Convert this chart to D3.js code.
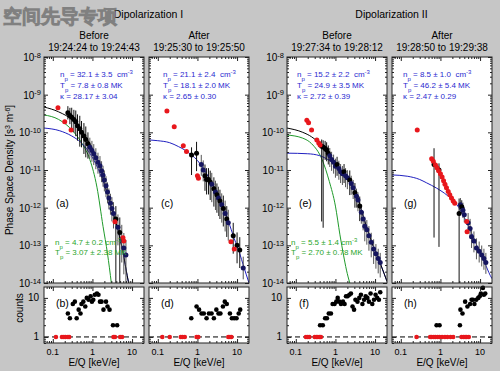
<!DOCTYPE html>
<html>
<head>
<meta charset="utf-8">
<script src="https://cdn.jsdelivr.net/npm/d3@7"></script>
<style>
  body { margin: 0; background: #c6c6c6; }
  text { font-family: "Liberation Sans", Arial, sans-serif; white-space: pre; }
</style>
</head>
<body>
<svg id="fig" width="500" height="371"></svg>
<script>
// ---- values ----
const eventTitles = ["Dipolarization I", "Dipolarization II"];
const phaseNames = ["Before", "After", "Before", "After"];
const timeRanges = ["19:24:24 to 19:24:43", "19:25:30 to 19:25:50", "19:27:34 to 19:28:12", "19:28:50 to 19:29:38"];
const psdLetters = ["(a)", "(c)", "(e)", "(g)"];
const cntLetters = ["(b)", "(d)", "(f)", "(h)"];
const kappaDens = ["32.1 ± 3.5", "21.1 ± 2.4", "15.2 ± 2.2", "8.5 ± 1.0"];
const kappaTemp = ["7.8 ± 0.8", "18.1 ± 2.0", "24.9 ± 3.5", "46.2 ± 5.4"];
const kappaIdx = ["28.17 ± 3.04", "2.65 ± 0.30", "2.72 ± 0.39", "2.47 ± 0.29"];
const maxwDens = ["4.7 ± 0.2", null, "5.5 ± 1.4", null];
const maxwTemp = ["3.07 ± 2.38", null, "2.70 ± 0.78", null];
const psdTicks = [1e-8, 1e-9, 1e-10, 1e-11, 1e-12, 1e-13, 1e-14];
const energyTicks = [0.1, 1, 10];
const countTicks = [1, 10];

// spectra: [E (keV/e), PSD, error-bar factor down, factor up, kind]  r = red, k = black, b = navy
const psdA = [
  [0.24, 3.3e-10, 1.5, 1.5, "k"], [0.27, 2.8e-10, 1.7, 1.6, "k"], [0.30, 2.5e-10, 2, 1.8, "k"],
  [0.34, 2.2e-10, 2.2, 1.8, "k"], [0.38, 1.9e-10, 2.4, 2, "k"], [0.42, 1.5e-10, 2.5, 2, "k"],
  [0.48, 1.25e-10, 3, 2.2, "k"], [0.53, 1.0e-10, 2.5, 2, "k"], [0.61, 8e-11, 3, 2.2, "k"],
  [0.68, 6.5e-11, 3, 2.2, "k"], [0.77, 5e-11, 2.5, 2, "k"], [0.86, 4e-11, 2, 1.8, "b"],
  [0.97, 3.3e-11, 2, 1.8, "b"], [1.08, 2.7e-11, 2, 1.8, "b"], [1.22, 2.1e-11, 2, 1.8, "b"],
  [1.38, 1.6e-11, 2, 1.8, "b"], [1.55, 1.3e-11, 2, 1.8, "b"], [1.7, 9.5e-12, 2, 1.8, "b"],
  [1.85, 7.2e-12, 2, 1.8, "b"], [2.0, 5.4e-12, 2, 1.8, "b"], [2.2, 3.8e-12, 2, 1.8, "b"],
  [2.4, 2.6e-12, 2, 1.8, "b"], [2.6, 1.8e-12, 2, 1.8, "b"], [2.85, 1.3e-12, 2, 1.8, "b"],
  [3.1, 9.5e-13, 2.2, 2, "b"], [3.4, 7e-13, 2.5, 2, "b"], [3.9, 5e-13, 60, 2.2, "k"],
  [4.4, 3e-13, 3, 2.2, "b"], [4.9, 2.2e-13, 40, 2.5, "k"], [5.5, 1.4e-13, 4, 2.5, "b"],
  [6.2, 8.5e-14, 5, 2.5, "b"], [7.0, 5.5e-14, 6, 2.5, "b"],
  [0.135, 4.5e-10, 1, 1, "r"], [0.20, 1.9e-10, 1, 1, "r"], [0.29, 1.15e-10, 1, 1, "r"],
  [3.7, 4.2e-13, 1, 1, "r"], [5.9, 1.6e-13, 1, 1, "r"], [6.2, 1.3e-13, 1, 1, "r"]
];
const psdC = [
  [0.71, 2.5e-11, 3.4, 1.6, "k"], [0.95, 2.8e-11, 3, 2, "k"], [1.25, 1.4e-11, 2, 1.8, "b"],
  [1.4, 1.0e-11, 2, 1.8, "b"], [1.55, 7e-12, 2.5, 2, "k"], [1.7, 5.6e-12, 2.5, 2, "k"],
  [1.9, 5.6e-12, 2.5, 2, "k"], [2.1, 4.8e-12, 3, 2, "k"], [2.3, 4.2e-12, 3, 2, "b"],
  [2.6, 3.2e-12, 3, 2, "k"], [2.85, 2.6e-12, 3, 2, "b"], [3.1, 2.2e-12, 3, 2, "k"],
  [3.4, 1.8e-12, 3, 2, "b"], [3.7, 1.5e-12, 3, 2, "k"], [4.1, 1.2e-12, 3, 2, "b"],
  [4.5, 9.5e-13, 3, 2.2, "k"], [5.0, 7e-13, 3, 2.2, "b"], [5.5, 5e-13, 3, 2.2, "k"],
  [6.0, 4e-13, 3, 2.2, "b"], [8.0, 1.8e-13, 3, 2.2, "k"], [10.0, 1e-13, 3, 2.2, "k"],
  [11.7, 7.5e-14, 3, 2.2, "k"], [14.3, 2.5e-14, 2, 2, "b"],
  [0.17, 3.7e-10, 1, 1, "r"], [0.26, 1.4e-10, 1, 1, "r"], [0.44, 4.4e-11, 1, 1, "r"],
  [0.53, 3.1e-11, 1, 1, "r"], [1.0, 7e-12, 1, 1, "r"], [1.06, 6e-12, 1, 1, "r"],
  [7.0, 1.25e-13, 1, 1, "r"], [8.5, 8e-14, 1, 1, "r"]
];
const psdE = [
  [0.45, 4.3e-11, 100, 1.5, "k"], [0.49, 4.1e-11, 140, 1.5, "k"], [0.55, 3.7e-11, 2, 1.6, "k"],
  [0.6, 3.4e-11, 2, 1.6, "k"], [0.66, 2.8e-11, 2, 1.6, "k"], [0.72, 2.4e-11, 2, 1.6, "b"],
  [0.8, 1.9e-11, 2, 1.6, "b"], [0.9, 1.6e-11, 2, 1.6, "b"], [1.0, 1.25e-11, 2, 1.6, "b"],
  [1.1, 1.4e-11, 2, 1.6, "k"], [1.22, 1.1e-11, 2, 1.6, "b"], [1.35, 9e-12, 2, 1.6, "b"],
  [1.5, 8e-12, 2, 1.6, "b"], [1.65, 9e-12, 2, 1.6, "k"], [1.8, 7e-12, 2, 1.6, "b"],
  [2.0, 6.2e-12, 2, 1.6, "b"], [2.3, 5.4e-12, 2.5, 1.8, "k"], [2.5, 4.4e-12, 2, 1.6, "b"],
  [2.8, 3.4e-12, 2, 1.6, "b"], [3.1, 2.5e-12, 2.5, 1.8, "k"], [3.4, 2.0e-12, 2, 1.6, "b"],
  [3.7, 1.6e-12, 2, 1.6, "b"], [4.1, 1.1e-12, 2.5, 1.8, "k"], [4.5, 7.5e-13, 2, 1.6, "b"],
  [5.0, 5e-13, 2, 1.6, "b"], [5.5, 3.2e-13, 2.5, 1.8, "b"], [6.2, 2.6e-13, 2.5, 1.8, "b"],
  [7.0, 1.8e-13, 2.5, 1.8, "b"], [8.0, 1.2e-13, 2.5, 1.8, "b"], [9.2, 8e-14, 2.5, 1.8, "b"],
  [10.5, 6e-14, 2.5, 1.8, "b"], [12, 4.5e-14, 2.5, 1.8, "b"], [13.5, 3.5e-14, 2.5, 1.8, "b"],
  [0.19, 2.1e-10, 1, 1, "r"], [0.21, 1.8e-10, 1, 1, "r"], [0.25, 1.15e-10, 1, 1, "r"],
  [0.34, 6.3e-11, 1, 1, "r"], [0.38, 5.2e-11, 1, 1, "r"], [0.41, 4.6e-11, 1, 1, "r"]
];
const psdG = [
  [0.69, 1.4e-11, 87, 2.7, "k"], [0.92, 1.0e-11, 110, 1.5, "k"], [2.96, 7e-13, 1000, 2.5, "k"],
  [3.2, 1.2e-12, 1.5, 1.5, "b"], [3.45, 1.05e-12, 1.5, 1.5, "k"], [3.7, 8.5e-13, 1.6, 1.6, "b"],
  [4.0, 6.5e-13, 1.6, 1.6, "b"], [5.0, 4e-13, 1.8, 1.8, "b"], [5.6, 2.8e-13, 1.8, 1.8, "b"],
  [6.1, 1.7e-13, 2, 1.8, "b"], [7.0, 1.3e-13, 2, 1.8, "b"], [8.1, 8.5e-14, 2, 1.8, "b"],
  [9.5, 7e-14, 2, 1.8, "b"], [11, 5.5e-14, 2, 1.8, "b"], [12.5, 4.5e-14, 2, 1.8, "b"],
  [14, 3.5e-14, 2, 1.8, "b"],
  [0.26, 1.15e-10, 1, 1, "r"], [0.6, 2.0e-11, 1, 1, "r"], [0.66, 1.7e-11, 1, 1, "r"],
  [0.75, 1.35e-11, 1, 1, "r"], [0.82, 1.15e-11, 1, 1, "r"], [0.9, 9.5e-12, 1, 1, "r"],
  [1.0, 8e-12, 1, 1, "r"], [1.1, 6.5e-12, 1, 1, "r"], [1.2, 5.2e-12, 1, 1, "r"],
  [1.3, 4.2e-12, 1, 1, "r"], [1.42, 3.4e-12, 1, 1, "r"], [1.57, 2.7e-12, 1, 1, "r"],
  [1.72, 2.2e-12, 1, 1, "r"], [1.9, 1.8e-12, 1, 1, "r"], [2.1, 1.5e-12, 1, 1, "r"],
  [2.3, 1.3e-12, 1, 1, "r"], [4.6, 4.3e-13, 1, 1, "r"], [4.7, 2.3e-13, 1, 1, "r"]
];

// fitted curves, read as [E, PSD]
const sumA = [[0.06, 4.7e-10], [0.14, 3.5e-10], [0.33, 2e-10], [0.55, 1.05e-10], [0.86, 5e-11], [1.3, 2e-11], [2, 4.5e-12], [3, 1e-12], [4.4, 2.6e-13], [6, 6e-14], [7.5, 1.6e-14], [8.2, 1e-14]];
const maxwA = [[0.06, 2.9e-10], [0.14, 2.2e-10], [0.33, 1.05e-10], [0.55, 5e-11], [0.86, 1.9e-11], [1.3, 3.5e-12], [1.85, 3.2e-13], [2.4, 6e-14], [3.0, 1e-14]];
const kappaA = [[0.06, 1.3e-10], [0.15, 1.1e-10], [0.3, 8e-11], [0.5, 5.5e-11], [0.8, 3.1e-11], [1.2, 1.5e-11], [2, 4e-12], [3, 1e-12], [4.4, 2.6e-13], [6, 6e-14], [7.5, 1.6e-14], [8.2, 1e-14]];
const kappaC = [[0.06, 6.3e-11], [0.1, 6.0e-11], [0.2, 5.3e-11], [0.33, 4.2e-11], [0.5, 3.3e-11], [0.71, 2.5e-11], [1.0, 1.8e-11], [1.4, 1.1e-11], [2, 6e-12], [3, 2.8e-12], [4.5, 1.1e-12], [6, 4.5e-13], [8.5, 1.5e-13], [11.7, 6e-14], [14.3, 3e-14], [20, 1e-14]];
const sumE = [[0.06, 1.3e-10], [0.15, 1.0e-10], [0.25, 7.6e-11], [0.46, 4.3e-11], [0.7, 2.3e-11], [1, 1.45e-11], [1.5, 8.5e-12], [2.3, 4.8e-12], [3.5, 2.1e-12], [5, 6e-13], [7, 2e-13], [10, 7e-14], [14, 3e-14], [20, 1.1e-14]];
const maxwE = [[0.06, 8.5e-11], [0.15, 7e-11], [0.25, 5e-11], [0.46, 1.9e-11], [0.7, 5e-12], [1.0, 1.1e-12], [1.3, 1.9e-13], [1.6, 5.5e-14], [1.9, 2.2e-14], [2.3, 1e-14]];
const kappaE = [[0.06, 2.8e-11], [0.2, 2.7e-11], [0.4, 2.4e-11], [0.7, 1.8e-11], [1, 1.35e-11], [1.5, 8.5e-12], [2.3, 4.8e-12], [3.5, 2.1e-12], [5, 6e-13], [7, 2e-13], [10, 7e-14], [14, 3e-14], [20, 1.1e-14]];
const kappaG = [[0.06, 7.4e-12], [0.15, 6.8e-12], [0.3, 5.6e-12], [0.44, 4.6e-12], [0.8, 3.3e-12], [1.5, 2.1e-12], [2.6, 1.2e-12], [4, 5.5e-13], [6, 2.2e-13], [9, 8e-14], [13, 3.5e-14], [18, 1.6e-14], [20, 1.3e-14]];

// counts panels: black energies / counts, red points sit at one count
const cntEB = [0.24, 0.27, 0.32, 0.36, 0.40, 0.45, 0.50, 0.53, 0.59, 0.66, 0.72, 0.80, 0.90, 0.97, 1.05, 1.15, 1.3, 1.42, 1.55, 1.7, 1.9, 2.2, 2.4, 2.7, 3.3, 4.2];
const cntB = [4, 3, 7, 8, 3, 5, 4, 7, 8, 6, 10, 9, 11, 8, 9, 12, 13, 12, 8, 8, 5, 8, 6, 5, 2, 2];
const redEB = [0.12, 0.17, 0.19, 0.21, 0.24, 0.26, 3.4, 3.7, 5.0, 5.6];
const cntED = [0.7, 0.95, 1.1, 1.27, 1.45, 1.7, 1.95, 2.27, 2.6, 3.0, 3.4, 3.8, 4.4, 4.9, 5.5, 6.6, 7.4, 8.5, 9.7, 11, 12];
const cntD = [3, 6, 5, 4, 4, 3, 4, 4, 3, 5, 4, 4, 6, 8, 7, 4, 3, 3, 3, 4, 5];
const redED = [0.13, 0.2, 0.38, 0.42, 0.48, 0.95, 1.05, 6.0, 6.6, 7.2];
const cntEF = [0.41, 0.48, 0.55, 0.61, 0.68, 0.77, 0.85, 0.95, 1.05, 1.14, 1.25, 1.38, 1.55, 1.7, 1.85, 2.03, 2.25, 2.46, 2.7, 2.95, 3.2, 3.6, 4.0, 4.4, 4.8, 5.3, 5.8, 6.4, 7.0, 7.7, 8.5, 9.4, 10.3, 11.3, 12.5, 13.5];
const cntF = [2, 2, 3, 3, 4, 4, 7, 7, 8, 10, 8, 7, 8, 7, 11, 11, 12, 13, 6, 5, 9, 8, 10, 12, 7, 9, 11, 10, 8, 13, 7, 9, 12, 10, 9, 14];
const redEF = [0.18, 0.2, 0.22, 0.3, 0.33, 0.36, 0.4, 0.43];
const cntEH = [0.8, 0.95, 3.1, 3.2, 3.6, 4.2, 4.8, 5.6, 6.1, 6.6, 7.2, 8.0, 9.0, 9.8, 10.5, 11.8, 12.5, 13.5];
const cntH = [2, 2, 2, 5, 4, 8, 6, 7, 9, 9, 7, 9, 10, 11, 13, 18, 12, 13];
const redEH = [0.25, 0.55, 0.6, 0.68, 0.75, 0.85, 0.95, 1.1, 1.3, 1.5, 1.8, 2.1, 3.4, 3.8, 4.2, 4.6, 5.2];

// ---- layout ----
const svg = d3.select("#fig");
const colX = [44, 149, 287, 392], colW = 100;
const psdTop = 57, psdBot = 283, cntTop = 287, cntBot = 343;
const dotCol = {r: "#e8171c", k: "#000000", b: "#15155e"};
const barCol = {k: "#111111", b: "#555555"};
const green = "#1f9a2a", blue = "#2020c0";

const spectra = [psdA, psdC, psdE, psdG];
const curves = [
  [[maxwA, green], [kappaA, blue], [sumA, "#000"]],
  [[kappaC, blue]],
  [[maxwE, green], [kappaE, blue], [sumE, "#000"]],
  [[kappaG, blue]]
];
const countsE = [cntEB, cntED, cntEF, cntEH];
const countsN = [cntB, cntD, cntF, cntH];
const countsRed = [redEB, redED, redEF, redEH];

svg.append("rect").attr("width", 500).attr("height", 371).attr("fill", "#c6c6c6");

const yPsd = d3.scaleLog().domain([1e-14, 1e-8]).range([psdBot, psdTop]);
const yCnt = d3.scaleLog().domain([0.7, 19]).range([cntBot, cntTop]);

// minor tick positions for log axes
function minorTicks(lo, hi) {
  let out = [];
  for (let e = Math.floor(Math.log10(lo)); e <= Math.ceil(Math.log10(hi)); e++)
    for (let m = 2; m <= 9; m++) {
      let v = m * Math.pow(10, e);
      if (v > lo && v < hi) out.push(v);
    }
  return out;
}

function frame(g, x, y, x0, x1, y0, y1, xMaj, yMaj) {
  const xMin = minorTicks(x.domain()[0], x.domain()[1]);
  const yMin = minorTicks(y.domain()[0], y.domain()[1]);
  const put = (axis, tr) => g.append("g").attr("transform", tr).call(axis)
    .call(s => { s.select(".domain").remove(); s.selectAll("line").attr("stroke", "#222"); });
  [[xMaj, 4], [xMin, 2]].forEach(([v, len]) => {
    put(d3.axisBottom(x).tickValues(v).tickSize(-len).tickFormat(""), `translate(0,${y0})`);
    put(d3.axisTop(x).tickValues(v).tickSize(-len).tickFormat(""), `translate(0,${y1})`);
  });
  [[yMaj, 4], [yMin, 2]].forEach(([v, len]) => {
    put(d3.axisLeft(y).tickValues(v).tickSize(-len).tickFormat(""), `translate(${x0},0)`);
    put(d3.axisRight(y).tickValues(v).tickSize(-len).tickFormat(""), `translate(${x1},0)`);
  });
  g.append("rect").attr("x", x0).attr("y", y1).attr("width", x1 - x0).attr("height", y0 - y1)
    .attr("fill", "none").attr("stroke", "#222").attr("stroke-width", 1);
}

function rich(g, x, y, color, size, parts) {
  const t = g.append("text").attr("x", x).attr("y", y).attr("fill", color).attr("font-size", size);
  let off = 0;
  parts.forEach(([s, k]) => {
    const target = k === "sub" ? 3.5 : k === "sup" ? -3.5 : 0;
    t.append("tspan").attr("dy", target - off).attr("font-size", k ? size * 0.75 : size).text(s);
    off = target;
  });
  return t;
}

const fitDx = [16, 14, 10, 11];
const maxDx = [11, 0, 4, 0];

colX.forEach((x0, i) => {
  const x1 = x0 + colW;
  const x = d3.scaleLog().domain([0.06, 20]).range([x0, x1]);
  const g = svg.append("g");

  // phase space density panel
  g.append("rect").attr("x", x0).attr("y", psdTop).attr("width", colW).attr("height", psdBot - psdTop).attr("fill", "#fff");
  g.append("clipPath").attr("id", "clip" + i).append("rect")
    .attr("x", x0).attr("y", psdTop).attr("width", colW).attr("height", psdBot - psdTop);
  const inner = g.append("g").attr("clip-path", `url(#clip${i})`);

  const line = d3.line().x(d => x(d[0])).y(d => yPsd(d[1])).curve(d3.curveMonotoneX);
  curves[i].forEach(([pts, c]) => {
    inner.append("path").datum(pts).attr("d", line).attr("fill", "none").attr("stroke", c).attr("stroke-width", 1);
  });

  const data = spectra[i];
  inner.selectAll(".bar").data(data.filter(d => d[4] !== "r")).enter().append("line")
    .attr("x1", d => x(d[0])).attr("x2", d => x(d[0]))
    .attr("y1", d => yPsd(Math.max(d[1] / d[2], 1e-15))).attr("y2", d => yPsd(d[1] * d[3]))
    .attr("stroke", d => barCol[d[4]]).attr("stroke-width", 1);
  inner.selectAll(".dot").data(data).enter().append("circle")
    .attr("cx", d => x(d[0])).attr("cy", d => yPsd(d[1])).attr("r", 2.5)
    .attr("fill", d => dotCol[d[4]]);

  frame(g, x, yPsd, x0, x1, psdBot, psdTop, energyTicks, psdTicks);

  // fit annotations
  const fx = x0 + fitDx[i];
  rich(g, fx, 77, "#2a2ad0", 8, [["n"], ["p", "sub"], [" = " + kappaDens[i] + "  cm"], ["-3", "sup"]]);
  rich(g, fx, 88, "#2a2ad0", 8, [["T"], ["p", "sub"], [" = " + kappaTemp[i] + " MK"]]);
  rich(g, fx, 99, "#2a2ad0", 8, [["κ = " + kappaIdx[i]]]);
  if (maxwDens[i]) {
    rich(g, x0 + maxDx[i], 245, "#2aa52a", 8, [["n"], ["p", "sub"], [" = " + maxwDens[i] + " cm"], ["-3", "sup"]]);
    rich(g, x0 + maxDx[i], 255, "#2aa52a", 8, [["T"], ["p", "sub"], [" = " + maxwTemp[i] + " MK"]]);
  }
  g.append("text").attr("x", x0 + 12).attr("y", 207).attr("font-size", 10.5).text(psdLetters[i]);

  // y tick labels only on the first panel of each event
  if (i % 2 === 0) {
    psdTicks.forEach(v => {
      rich(g, x0 - 3, yPsd(v) + 4, "#000", 10, [["10"], [String(Math.round(Math.log10(v))), "sup"]])
        .attr("text-anchor", "end");
    });
    g.append("text").attr("x", x0 - 5).attr("y", yCnt(10) + 3.5).attr("text-anchor", "end").attr("font-size", 10).text("10");
    g.append("text").attr("x", x0 - 5).attr("y", yCnt(1) + 3.5).attr("text-anchor", "end").attr("font-size", 10).text("1");
  }

  // header
  g.append("text").attr("x", (x0 + x1) / 2).attr("y", 39).attr("text-anchor", "middle").attr("font-size", 10).text(phaseNames[i]);
  g.append("text").attr("x", (x0 + x1) / 2).attr("y", 51).attr("text-anchor", "middle").attr("font-size", 10).text(timeRanges[i]);

  // counts panel
  g.append("rect").attr("x", x0).attr("y", cntTop).attr("width", colW).attr("height", cntBot - cntTop).attr("fill", "#fff");
  g.append("line").attr("x1", x0).attr("x2", x1).attr("y1", yCnt(1)).attr("y2", yCnt(1))
    .attr("stroke", "#000").attr("stroke-dasharray", "5,3");
  g.selectAll(".cr").data(countsRed[i]).enter().append("circle")
    .attr("cx", d => x(d)).attr("cy", yCnt(1)).attr("r", 2.3).attr("fill", dotCol.r);
  g.selectAll(".ck").data(countsE[i].map((e, j) => [e, countsN[i][j]])).enter().append("circle")
    .attr("cx", d => x(d[0])).attr("cy", d => yCnt(d[1])).attr("r", 2.3).attr("fill", "#000");
  frame(g, x, yCnt, x0, x1, cntBot, cntTop, energyTicks, countTicks);
  g.append("text").attr("x", x0 + 12).attr("y", 307).attr("font-size", 10.5).text(cntLetters[i]);

  energyTicks.forEach(v => {
    g.append("text").attr("x", x(v)).attr("y", 355).attr("text-anchor", "middle").attr("font-size", 9).text(String(v));
  });
  g.append("text").attr("x", (x0 + x1) / 2).attr("y", 366).attr("text-anchor", "middle").attr("font-size", 10).text("E/Q [keV/e]");
});

// event titles
eventTitles.forEach((t, k) => {
  svg.append("text").attr("x", (colX[2 * k] + colX[2 * k + 1] + colW) / 2 + 2).attr("y", 18)
    .attr("text-anchor", "middle").attr("font-size", 10.5).text(t);
});

// axis titles
const yl = svg.append("text").attr("transform", "translate(13,170) rotate(-90)").attr("text-anchor", "middle").attr("font-size", 10);
yl.append("tspan").text("Phase Space Density [s");
yl.append("tspan").attr("dy", -3.5).attr("font-size", 7).text("3");
yl.append("tspan").attr("dy", 3.5).text(" m");
yl.append("tspan").attr("dy", -3.5).attr("font-size", 7).text("-6");
yl.append("tspan").attr("dy", 3.5).text("]");
svg.append("text").attr("transform", "translate(23,308) rotate(-90)").attr("text-anchor", "middle").attr("font-size", 10).text("counts");

// watermark
svg.append("text").attr("x", 3).attr("y", 23)
  .attr("font-family", "'Noto Sans CJK SC', sans-serif").attr("font-size", 18.5).attr("font-weight", 700)
  .attr("fill", "#fafafa").attr("stroke", "#808080").attr("stroke-width", 0.9)
  .text("空间先导专项");
</script>
</body>
</html>
